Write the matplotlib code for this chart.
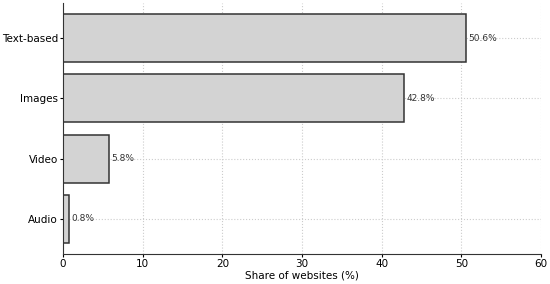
import matplotlib
matplotlib.use('Agg')
import matplotlib.pyplot as plt

categories = ['Audio', 'Video', 'Images', 'Text-based']
shares = [0.8, 5.8, 42.8, 50.6]
xticks = [0, 10, 20, 30, 40, 50, 60]

fig = plt.figure(figsize=(5.5, 2.84), dpi=100)
ax = fig.add_axes([63 / 550, 30 / 284, 478 / 550, 251 / 284])

ax.barh(range(len(categories)), shares, height=0.8, color='#d3d3d3',
        edgecolor='#333333', linewidth=1.1, zorder=2)
for i, v in enumerate(shares):
    ax.text(v + 0.3, i, f'{v}%', va='center', ha='left', fontsize=6.5, color='#333333')

ax.set_yticks(range(len(categories)))
ax.set_yticklabels(categories, fontsize=7.5)
ax.set_xticks(xticks)
ax.tick_params(axis='x', labelsize=7.5, length=2.5, pad=1)
ax.tick_params(axis='y', length=2.5, pad=1)
ax.set_xlim(0, 60)
ax.set_ylim(-0.59, 3.59)
ax.set_xlabel('Share of websites (%)', fontsize=7.5, labelpad=1)
ax.grid(True, linestyle=':', color='#cccccc', linewidth=0.8, zorder=0)
ax.set_axisbelow(True)
for s in ['top', 'right']:
    ax.spines[s].set_visible(False)
for s in ['left', 'bottom']:
    ax.spines[s].set_color('#333333')

fig.savefig('out.png', dpi=100)
